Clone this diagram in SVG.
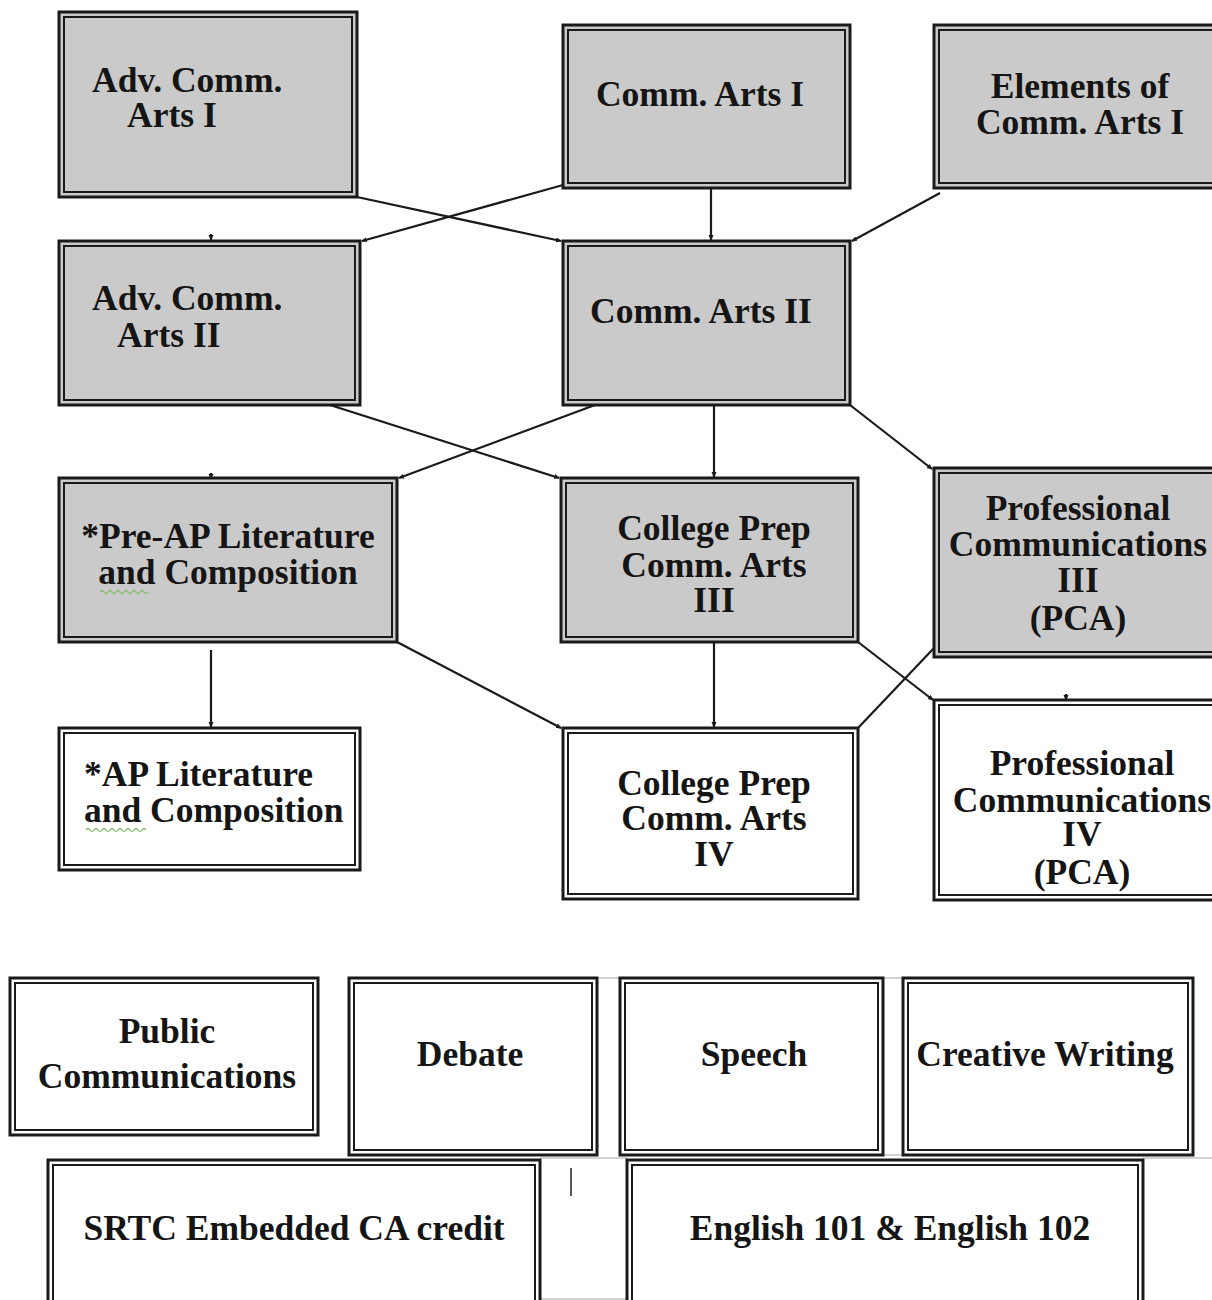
<svg xmlns="http://www.w3.org/2000/svg" width="1212" height="1300" viewBox="0 0 1212 1300">
<style>
.o{stroke:#1a1a1a;stroke-width:3}
.i{fill:none;stroke:#1a1a1a;stroke-width:2}
.g{fill:#cacaca}
.w{fill:#ffffff}
text{font-family:"Liberation Serif","Times New Roman",serif;font-weight:bold;font-size:35.5px;fill:#151515}
.c{text-anchor:middle}
.ln{stroke:#1a1a1a;stroke-width:2.2;fill:none}
.grid{stroke:#c4c4c4;stroke-width:1.5;fill:none}
.sq{stroke:#7fbf6a;stroke-width:1.3;fill:none}
</style>
<defs>
<marker id="ah" markerWidth="6" markerHeight="6" refX="5" refY="3" orient="auto" markerUnits="userSpaceOnUse">
<path d="M0,0.5 L6,3 L0,5.5 z" fill="#1a1a1a"/>
</marker>
</defs>
<rect width="1212" height="1300" fill="#ffffff"/>

<g id="grid">
<line class="grid" x1="597" y1="978" x2="620" y2="978"/>
<line class="grid" x1="883" y1="978" x2="903" y2="978"/>
<line class="grid" x1="883" y1="1155" x2="903" y2="1155"/>
<line class="grid" x1="540" y1="1158" x2="627" y2="1158"/>
<line class="grid" x1="1143" y1="1158" x2="1212" y2="1158"/>
<line class="grid" x1="540" y1="1299" x2="627" y2="1299"/>
<line x1="571" y1="1168" x2="571" y2="1196" stroke="#222" stroke-width="1.5"/>
</g>

<g id="connectors">
<line class="ln" x1="357" y1="197" x2="561" y2="241" marker-end="url(#ah)"/>
<line class="ln" x1="563" y1="185" x2="362" y2="241" marker-end="url(#ah)"/>
<line class="ln" x1="711" y1="188" x2="711" y2="240" marker-end="url(#ah)"/>
<line class="ln" x1="940" y1="193" x2="852" y2="241" marker-end="url(#ah)"/>
<line class="ln" x1="211" y1="234" x2="211" y2="240" marker-end="url(#ah)"/>
<line class="ln" x1="330" y1="405" x2="559" y2="478" marker-end="url(#ah)"/>
<line class="ln" x1="595" y1="405" x2="399" y2="478" marker-end="url(#ah)"/>
<line class="ln" x1="714" y1="405" x2="714" y2="477" marker-end="url(#ah)"/>
<line class="ln" x1="850" y1="405" x2="932" y2="469" marker-end="url(#ah)"/>
<line class="ln" x1="211" y1="473" x2="211" y2="479" marker-end="url(#ah)"/>
<line class="ln" x1="211" y1="650" x2="211" y2="727" marker-end="url(#ah)"/>
<line class="ln" x1="397" y1="642" x2="561" y2="728" marker-end="url(#ah)"/>
<line class="ln" x1="714" y1="642" x2="714" y2="727" marker-end="url(#ah)"/>
<line class="ln" x1="858" y1="642" x2="933" y2="700" marker-end="url(#ah)"/>
<line class="ln" x1="858" y1="728" x2="934" y2="648"/>
<line class="ln" x1="1066" y1="694" x2="1066" y2="700" marker-end="url(#ah)"/>
</g>

<g id="adv-comm-arts-1">
<rect class="o g" x="59" y="12" width="298" height="185"/>
<rect class="i" x="64" y="17" width="288" height="175"/>
<text x="92" y="92">Adv. Comm.</text>
<text x="127" y="127">Arts I</text>
</g>

<g id="comm-arts-1">
<rect class="o g" x="563" y="25" width="287" height="163"/>
<rect class="i" x="568" y="30" width="277" height="153"/>
<text class="c" x="700" y="106">Comm. Arts I</text>
</g>

<g id="elements-comm-arts-1">
<rect class="o g" x="934" y="25" width="290" height="163"/>
<rect class="i" x="939" y="30" width="280" height="153"/>
<text class="c" x="1080" y="98">Elements of</text>
<text class="c" x="1080" y="134">Comm. Arts I</text>
</g>

<g id="adv-comm-arts-2">
<rect class="o g" x="59" y="241" width="301" height="164"/>
<rect class="i" x="64" y="246" width="291" height="154"/>
<text x="92" y="310">Adv. Comm.</text>
<text x="117" y="347">Arts II</text>
</g>

<g id="comm-arts-2">
<rect class="o g" x="563" y="241" width="287" height="164"/>
<rect class="i" x="568" y="246" width="277" height="154"/>
<text class="c" x="701" y="323">Comm. Arts II</text>
</g>

<g id="pre-ap">
<rect class="o g" x="59" y="478" width="338" height="164"/>
<rect class="i" x="64" y="483" width="328" height="154"/>
<text class="c" x="228" y="548">*Pre-AP Literature</text>
<text class="c" x="228" y="584">and Composition</text>
<path class="sq" d="M100,592 q2,-3 4,0 t4,0 t4,0 t4,0 t4,0 t4,0 t4,0 t4,0 t4,0 t4,0 t4,0 t4,0"/>
</g>

<g id="college-prep-3">
<rect class="o g" x="561" y="478" width="297" height="164"/>
<rect class="i" x="566" y="483" width="287" height="154"/>
<text class="c" x="714" y="540">College Prep</text>
<text class="c" x="714" y="577">Comm. Arts</text>
<text class="c" x="714" y="612">III</text>
</g>

<g id="professional-3">
<rect class="o g" x="934" y="468" width="290" height="189"/>
<rect class="i" x="939" y="473" width="280" height="179"/>
<text class="c" x="1078" y="520">Professional</text>
<text class="c" x="1078" y="556">Communications</text>
<text class="c" x="1078" y="592">III</text>
<text class="c" x="1078" y="630">(PCA)</text>
</g>

<g id="ap-lit">
<rect class="o w" x="59" y="728" width="301" height="142"/>
<rect class="i" x="64" y="733" width="291" height="132"/>
<text x="84" y="786">*AP Literature</text>
<text x="84" y="822">and Composition</text>
<path class="sq" d="M86,830 q2,-3 4,0 t4,0 t4,0 t4,0 t4,0 t4,0 t4,0 t4,0 t4,0 t4,0 t4,0 t4,0 t4,0 t4,0 t4,0"/>
</g>

<g id="college-prep-4">
<rect class="o w" x="563" y="728" width="295" height="171"/>
<rect class="i" x="568" y="733" width="285" height="161"/>
<text class="c" x="714" y="795">College Prep</text>
<text class="c" x="714" y="830">Comm. Arts</text>
<text class="c" x="714" y="866">IV</text>
</g>

<g id="professional-4">
<rect class="o w" x="934" y="700" width="290" height="200"/>
<rect class="i" x="939" y="705" width="280" height="190"/>
<text class="c" x="1082" y="775">Professional</text>
<text class="c" x="1082" y="812">Communications</text>
<text class="c" x="1082" y="846">IV</text>
<text class="c" x="1082" y="884">(PCA)</text>
</g>

<g id="public-comm">
<rect class="o w" x="10" y="978" width="308" height="157"/>
<rect class="i" x="15" y="983" width="298" height="147"/>
<text class="c" x="167" y="1043">Public</text>
<text class="c" x="167" y="1088">Communications</text>
</g>

<g id="debate">
<rect class="o w" x="349" y="978" width="248" height="177"/>
<rect class="i" x="354" y="983" width="238" height="167"/>
<text class="c" x="470" y="1066">Debate</text>
</g>

<g id="speech">
<rect class="o w" x="620" y="978" width="263" height="177"/>
<rect class="i" x="625" y="983" width="253" height="167"/>
<text class="c" x="754" y="1066">Speech</text>
</g>

<g id="creative-writing">
<rect class="o w" x="903" y="978" width="290" height="177"/>
<rect class="i" x="908" y="983" width="280" height="167"/>
<text class="c" x="1045" y="1066">Creative Writing</text>
</g>

<g id="srtc">
<rect class="o w" x="48" y="1160" width="492" height="150"/>
<rect class="i" x="53" y="1165" width="482" height="150"/>
<text class="c" x="294" y="1240">SRTC Embedded CA credit</text>
</g>

<g id="english">
<rect class="o w" x="627" y="1160" width="516" height="150"/>
<rect class="i" x="632" y="1165" width="506" height="150"/>
<text class="c" x="890" y="1240">English 101 &amp; English 102</text>
</g>
</svg>
